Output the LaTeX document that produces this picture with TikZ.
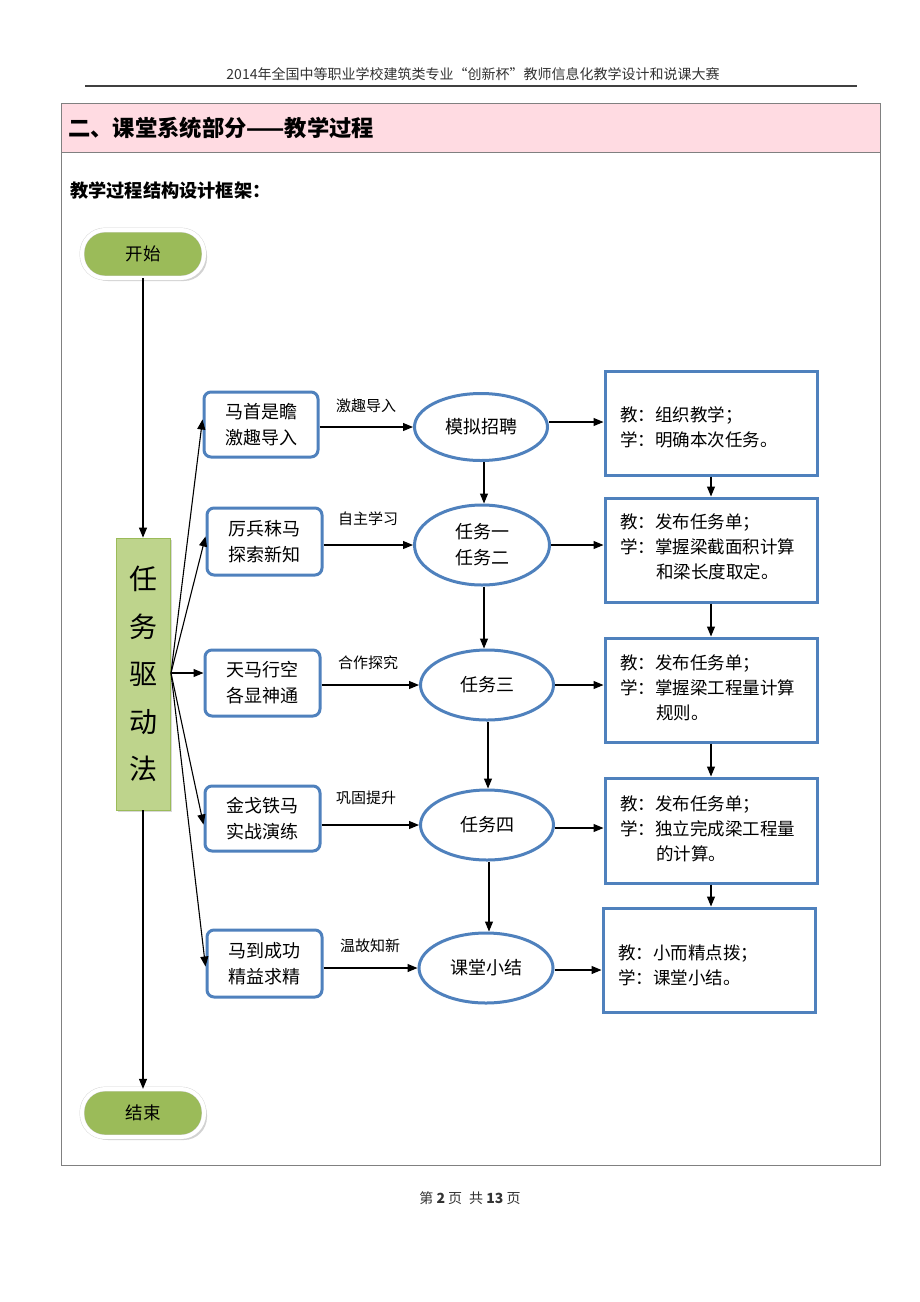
\documentclass[tikz,border=0pt]{standalone}
\usepackage{fontspec}
\setmainfont{Noto Sans CJK SC}
\usetikzlibrary{shapes.geometric,arrows.meta,shadows}
\definecolor{bluebd}{RGB}{79,129,189}
\definecolor{greenfill}{RGB}{155,187,89}
\definecolor{lightgreen}{RGB}{190,212,140}
\definecolor{pinkband}{RGB}{255,219,226}
\definecolor{framegray}{RGB}{128,128,128}
\newcommand{\fs}[2]{\fontsize{#1}{#2}\selectfont}
\begin{document}
\begin{tikzpicture}[x=1pt,y=-1pt,
  pill/.style={rectangle, rounded corners=23pt, fill=greenfill, draw=gray!35, double=white, double distance=4pt,
    minimum width=122pt, minimum height=48pt, font=\fs{17.5}{20},
    drop shadow={shadow xshift=3pt, shadow yshift=-3pt, opacity=0.35}},
  lbox/.style={draw=bluebd, line width=3pt, rounded corners=7pt, fill=white, align=center,
    font=\fs{18}{26}, inner sep=0pt},
  ell/.style={ellipse, draw=bluebd, line width=3pt, fill=white, align=center,
    font=\fs{18}{26}, inner sep=0pt},
  rbox/.style={draw=bluebd, line width=3pt, fill=white, minimum width=212pt, minimum height=104pt, inner sep=0pt},
  rtxt/.style={anchor=west, align=left, font=\fs{17.5}{25}, inner sep=0pt},
  elab/.style={font=\fs{15}{18}, inner sep=0pt},
  arr/.style={-{Triangle[length=10pt,width=8pt]}, line width=1.1pt, black}
]
\useasboundingbox (0,0) rectangle (920,1302);
\fill[white] (0,0) rectangle (920,1302);

% header
\node[font=\fs{14}{17}, text=black!80] (hdr) at (473,74) {2014年全国中等职业学校建筑类专业“创新杯”教师信息化教学设计和说课大赛};
\draw[line width=1.6pt, black!75] (85,86) -- (857,86);

% frame
\fill[pinkband] (61,103) rectangle (880,152);
\draw[framegray, line width=1pt] (61,103) rectangle (880,1165);
\draw[framegray, line width=1pt] (61,152) -- (880,152);
\node[anchor=west, font=\bfseries\fs{22.3}{26}, inner sep=0pt] (title) at (68,128) {二、课堂系统部分——教学过程};
\node[anchor=west, font=\bfseries\fs{18.2}{21}, inner sep=0pt] (sub) at (70,191) {教学过程结构设计框架：};

% start / end
\node[pill] (start) at (143,254) {开始};
\node[pill] (end) at (143,1113) {结束};

% task-driven box
\node[fill=lightgreen, draw=greenfill, line width=0.8pt, minimum width=54pt, minimum height=272pt,
  inner sep=0pt, align=center, font=\fs{28}{47.5},
  drop shadow={shadow xshift=2pt, shadow yshift=-2pt, opacity=0.3}] (task) at (143,674) {任\\务\\驱\\动\\法};

\draw[arr] (start.south) -- (task.north -| start.south);
\draw[arr] (task.south) -- (end.north -| task.south);

% left boxes
\node[lbox, minimum width=114pt, minimum height=65pt] (b1) at (261,424.5) {马首是瞻\\激趣导入};
\node[lbox, minimum width=115pt, minimum height=67pt] (b2) at (264.5,541.5) {厉兵秣马\\探索新知};
\node[lbox, minimum width=115pt, minimum height=66pt] (b3) at (262.5,683) {天马行空\\各显神通};
\node[lbox, minimum width=115pt, minimum height=65pt] (b4) at (262.5,818.5) {金戈铁马\\实战演练};
\node[lbox, minimum width=115pt, minimum height=67pt] (b5) at (264.5,963.5) {马到成功\\精益求精};

% ellipses
\node[ell, minimum width=133pt, minimum height=67pt] (e1) at (481,427) {模拟招聘};
\node[ell, minimum width=135pt, minimum height=80pt] (e2) at (482,545) {任务一\\任务二};
\node[ell, minimum width=133pt, minimum height=70pt] (e3) at (487,685) {任务三};
\node[ell, minimum width=133pt, minimum height=70pt] (e4) at (487,825) {任务四};
\node[ell, minimum width=134pt, minimum height=70pt] (e5) at (486,968) {课堂小结};

% right boxes
\node[rbox] (r1) at (711,423) {};
\node[rbox] (r2) at (711,550) {};
\node[rbox] (r3) at (711,690) {};
\node[rbox, minimum height=105pt] (r4) at (711,830.5) {};
\node[rbox] (r5) at (709,960) {};
\node[rtxt] (t1) at (620,427) {教：组织教学；\\学：明确本次任务。};
\node[rtxt] (t2) at (620,547) {教：发布任务单；\\学：掌握梁截面积计算\\\hspace*{2.05em}和梁长度取定。};
\node[rtxt] (t3) at (620,688) {教：发布任务单；\\学：掌握梁工程量计算\\\hspace*{2.05em}规则。};
\node[rtxt] (t4) at (620,829) {教：发布任务单；\\学：独立完成梁工程量\\\hspace*{2.05em}的计算。};
\node[rtxt] (t5) at (618,965) {教：小而精点拨；\\学：课堂小结。};

% fan arrows
\coordinate (fan) at (171,673);
\draw[arr] (fan) -- ([yshift=5pt]b1.west);
\draw[arr] (fan) -- ([yshift=5pt]b2.west);
\draw[arr] (fan) -- (b3.west |- fan);
\draw[arr] (fan) -- ([yshift=-6pt]b4.west);
\draw[arr] (fan) -- ([yshift=-3pt]b5.west);

% box -> ellipse arrows with labels
\draw[arr] (e1.west -| b1.east) -- (e1.west);
\draw[arr] (e2.west -| b2.east) -- (e2.west);
\draw[arr] (e3.west -| b3.east) -- (e3.west);
\draw[arr] (e4.west -| b4.east) -- (e4.west);
\draw[arr] (e5.west -| b5.east) -- (e5.west);
\node[elab] (l1) at (366,406) {激趣导入};
\node[elab] (l2) at (368,519) {自主学习};
\node[elab] (l3) at (368,663) {合作探究};
\node[elab] (l4) at (366,798) {巩固提升};
\node[elab] (l5) at (370,946) {温故知新};

% ellipse vertical arrows
\draw[arr] ([xshift=3pt]e1.south) -- ([xshift=2pt]e2.north);
\draw[arr] ([xshift=2pt]e2.south) -- ([xshift=-3pt]e3.north);
\draw[arr] ([xshift=1pt]e3.south) -- ([xshift=1pt]e4.north);
\draw[arr] ([xshift=2pt]e4.south) -- ([xshift=3pt]e5.north);

% ellipse -> right box arrows
\coordinate (o1) at ([yshift=5pt]e1.east);
\coordinate (o4) at ([yshift=-3pt]e4.east);
\coordinate (o5) at ([yshift=-2pt]e5.east);
\draw[arr] (o1) -- (r1.west |- o1);
\draw[arr] (e2.east) -- (r2.west |- e2.east);
\draw[arr] (e3.east) -- (r3.west |- e3.east);
\draw[arr] (o4) -- (r4.west |- o4);
\draw[arr] (o5) -- (r5.west |- o5);

% right box vertical arrows
\draw[arr] (r1.south) -- (r2.north);
\draw[arr] (r2.south) -- (r3.north);
\draw[arr] (r3.south) -- (r4.north);
\draw[arr] (r4.south) -- (r4.south |- r5.north);

% footer
\node[font=\fs{14}{17}, text=black!80] (foot) at (470,1198) {第 \textbf{2} 页\enspace 共 \textbf{13} 页};
\end{tikzpicture}
\end{document}
